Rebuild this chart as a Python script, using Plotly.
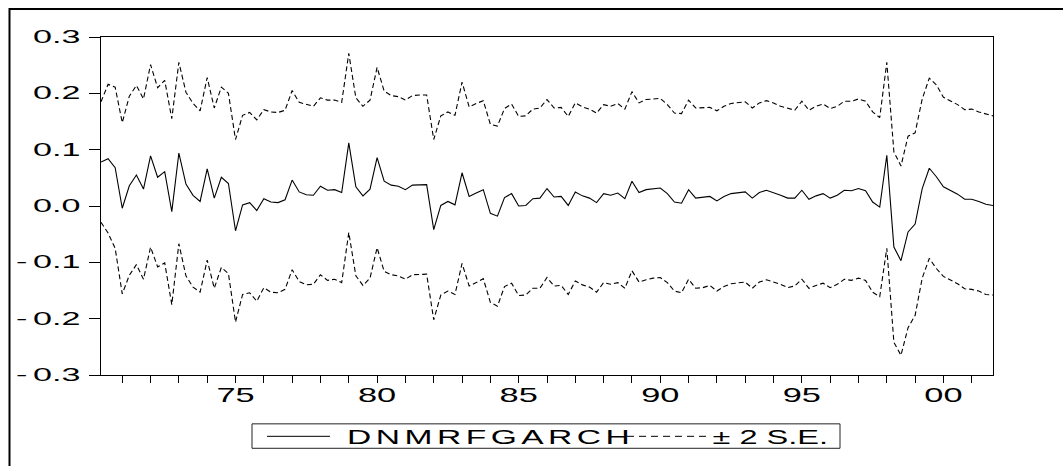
import plotly.graph_objects as go

# ---------------- data ----------------
start_year = 1970
start_quarter = 2  # first observation 1970Q2, quarterly through 2001Q4

fcst = [
    0.078, 0.084, 0.068, -0.004, 0.036, 0.055, 0.030, 0.089, 0.051, 0.061,
    -0.010, 0.094, 0.039, 0.019, 0.008, 0.066, 0.014, 0.051, 0.040, -0.044,
    0.002, 0.006, -0.008, 0.013, 0.007, 0.006, 0.011, 0.046, 0.025, 0.020,
    0.019, 0.035, 0.028, 0.029, 0.024, 0.112, 0.034, 0.018, 0.030, 0.086,
    0.044, 0.037, 0.035, 0.029, 0.037, 0.038, 0.038, -0.042, 0.001, 0.008,
    0.002, 0.059, 0.017, 0.023, 0.029, -0.013, -0.018, 0.015, 0.022, 0.000,
    0.001, 0.013, 0.014, 0.031, 0.016, 0.017, 0.001, 0.025, 0.018, 0.014,
    0.006, 0.022, 0.019, 0.023, 0.013, 0.044, 0.024, 0.029, 0.031, 0.032,
    0.022, 0.007, 0.005, 0.029, 0.014, 0.015, 0.017, 0.009, 0.017, 0.022,
    0.023, 0.025, 0.014, 0.024, 0.028, 0.024, 0.019, 0.014, 0.014, 0.028,
    0.012, 0.018, 0.022, 0.014, 0.019, 0.028, 0.027, 0.031, 0.027, 0.007,
    -0.002, 0.090, -0.073, -0.097, -0.046, -0.032, 0.031, 0.067, 0.052, 0.034,
    0.028, 0.021, 0.012, 0.012, 0.008, 0.003, 0.001,
]

two_se = [
    0.107, 0.132, 0.143, 0.152, 0.159, 0.159, 0.160, 0.162, 0.159, 0.162,
    0.165, 0.161, 0.163, 0.163, 0.161, 0.162, 0.160, 0.160, 0.160, 0.162,
    0.159, 0.160, 0.161, 0.158, 0.160, 0.160, 0.159, 0.159, 0.159, 0.160,
    0.158, 0.157, 0.160, 0.159, 0.160, 0.159, 0.158, 0.159, 0.158, 0.160,
    0.160, 0.159, 0.159, 0.159, 0.159, 0.159, 0.159, 0.160, 0.159, 0.159,
    0.159, 0.161, 0.159, 0.159, 0.158, 0.158, 0.160, 0.158, 0.159, 0.159,
    0.159, 0.159, 0.160, 0.158, 0.158, 0.158, 0.158, 0.158, 0.158, 0.158,
    0.159, 0.158, 0.158, 0.159, 0.159, 0.159, 0.159, 0.160, 0.159, 0.159,
    0.158, 0.158, 0.159, 0.159, 0.160, 0.160, 0.158, 0.160, 0.160, 0.160,
    0.160, 0.160, 0.160, 0.159, 0.159, 0.159, 0.158, 0.159, 0.156, 0.158,
    0.158, 0.159, 0.159, 0.159, 0.158, 0.158, 0.159, 0.159, 0.159, 0.160,
    0.159, 0.165, 0.169, 0.168, 0.170, 0.162, 0.159, 0.160, 0.163, 0.159,
    0.159, 0.159, 0.159, 0.160, 0.159, 0.160, 0.159,
]

year_ticks = list(range(1971, 2002))
label_years = [1975, 1980, 1985, 1990, 1995, 2000]
y_tick_vals = [-0.3, -0.2, -0.1, 0.0, 0.1, 0.2, 0.3]
y_tick_labels = ["-0.3", "-0.2", "-0.1", "0.0", "0.1", "0.2", "0.3"]
series_name = "DNMRFGARCH"
band_name = "\u00b1 2 S.E."

# ---------------- derived ----------------
assert len(fcst) == len(two_se)
n = len(fcst)
t = [start_year + (start_quarter - 1) / 4 + i / 4 for i in range(n)]
upper = [f + s for f, s in zip(fcst, two_se)]
lower = [f - s for f, s in zip(fcst, two_se)]

x_tick_text = [f"{y % 100:02d}" if y in label_years else "" for y in year_ticks]
# a small gap after the minus sign, as in the original EViews labels
y_tick_text = [s.replace("-", "-\u2006") for s in y_tick_labels]

FONT = "Liberation Sans, Arial, Helvetica, sans-serif"
FIG_W, FIG_H = 1063, 466
L, R, T, B = 101, 70, 36.5, 90.5
PW = FIG_W - L - R
PH = FIG_H - T - B

# horizontal stretch of the (wide) original lettering
XTICK_STRETCH = 1.72
YTICK_STRETCH = 1.95
ANN_STRETCH = [1.6, 1.55]


def pxx(xpix):
    return (xpix - L) / PW


def pxy(ypix):
    return (FIG_H - B - ypix) / PH


fig = go.Figure()
fig.add_trace(go.Scatter(x=t, y=upper, mode="lines", name=band_name,
                         line=dict(color="black", width=1.1, dash="5px,3px"),
                         showlegend=False, hoverinfo="skip"))
fig.add_trace(go.Scatter(x=t, y=lower, mode="lines", name=band_name + " (lower)",
                         line=dict(color="black", width=1.1, dash="5px,3px"),
                         showlegend=False, hoverinfo="skip"))
fig.add_trace(go.Scatter(x=t, y=fcst, mode="lines", name=series_name,
                         line=dict(color="black", width=1.1),
                         showlegend=False))

shapes = [
    # outer frame
    dict(type="rect", xref="paper", yref="paper",
         x0=pxx(9.5), x1=pxx(1080), y0=pxy(490), y1=pxy(8.5),
         line=dict(color="black", width=2)),
    # legend box
    dict(type="rect", xref="paper", yref="paper",
         x0=pxx(252), x1=pxx(840), y0=pxy(449), y1=pxy(424.5),
         line=dict(color="#222222", width=1)),
    # legend samples
    dict(type="line", xref="paper", yref="paper",
         x0=pxx(267), x1=pxx(330), y0=pxy(437), y1=pxy(437),
         line=dict(color="black", width=1)),
    dict(type="line", xref="paper", yref="paper",
         x0=pxx(627), x1=pxx(707), y0=pxy(437), y1=pxy(437),
         line=dict(color="black", width=1, dash="7px,5px")),
]

annotations = [
    dict(text=f'<span style="letter-spacing:2.8px">{series_name[:-1]}</span>{series_name[-1]}',
         xref="paper", yref="paper",
         x=pxx(488), y=pxy(437.5), xanchor="center", yanchor="middle",
         showarrow=False, font=dict(family=FONT, size=21, color="black")),
    dict(text=band_name, xref="paper", yref="paper",
         x=pxx(770), y=pxy(437.5), xanchor="center", yanchor="middle",
         showarrow=False, font=dict(family=FONT, size=21, color="black")),
]

fig.update_layout(
    width=FIG_W, height=FIG_H,
    margin=dict(l=L, r=R, t=T, b=B, pad=0),
    paper_bgcolor="white", plot_bgcolor="white",
    font=dict(family=FONT, color="black"),
    shapes=shapes, annotations=annotations,
    showlegend=False,
)
fig.update_xaxes(
    range=[t[0], t[-1]], tickmode="array", tickvals=year_ticks, ticktext=x_tick_text,
    ticks="outside", ticklen=7, tickwidth=1, tickcolor="black",
    showline=True, linecolor="black", linewidth=1, mirror=True,
    showgrid=False, zeroline=False, tickfont=dict(size=20, family=FONT),
    ticklabelstandoff=-5,
)
fig.update_yaxes(
    range=[-0.3, 0.3], tickmode="array", tickvals=y_tick_vals, ticktext=y_tick_text,
    ticks="outside", ticklen=11, tickwidth=1, tickcolor="black",
    showline=True, linecolor="black", linewidth=1, mirror=True,
    showgrid=False, zeroline=False, tickfont=dict(size=17.5, family=FONT),
    ticklabelstandoff=5,
)

post_js = """
var gd = document.getElementById('{plot_id}');
function stretchEl(el, s) {
  if (el.getAttribute('data-stretched')) return;
  var x = parseFloat(el.getAttribute('x')) || 0;
  var tr = el.getAttribute('transform') || '';
  el.setAttribute('transform', tr + ' translate(' + x + ',0) scale(' + s + ',1) translate(' + (-x) + ',0)');
  el.setAttribute('data-stretched', '1');
}
gd.querySelectorAll('.xtick text').forEach(function(el){ stretchEl(el, %s); });
gd.querySelectorAll('.ytick text').forEach(function(el){ stretchEl(el, %s); });
var annS = [%s];
gd.querySelectorAll('.annotation-text').forEach(function(el, i){ stretchEl(el, annS[i] || 1); });
""" % (XTICK_STRETCH, YTICK_STRETCH, ",".join(str(s) for s in ANN_STRETCH))

fig.write_html("out.html", post_script=post_js)
